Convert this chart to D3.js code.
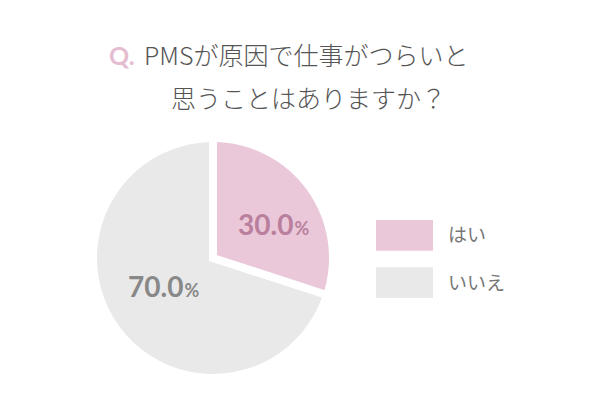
<!DOCTYPE html>
<html><head><meta charset="utf-8">
<script src="https://cdn.jsdelivr.net/npm/d3@7"></script>
<style>html,body{margin:0;padding:0;background:#fff;}</style>
</head><body><div id="chart"></div>
<script>
const categories = ["はい", "いいえ"];
const values = [30.0, 70.0];
const colors = ["#eac8d9", "#e9e9e9"];
const labelColors = ["#b97f9c", "#888888"];
const titleLines = ["PMSが原因で仕事がつらいと", "思うことはありますか？"];
const titlePrefix = "Q.";

const W = 600, H = 400;
const svg = d3.select("#chart").append("svg").attr("width", W).attr("height", H);
svg.append("rect").attr("width", W).attr("height", H).attr("fill", "#fff");

const jp = "'Noto Sans CJK JP','Noto Sans',sans-serif";
const num = "Lato,'Noto Sans',sans-serif";

// Title
svg.append("text").attr("x", 109).attr("y", 65)
  .attr("font-family", num).attr("font-weight", 700).attr("font-size", 25)
  .attr("fill", "#e6bdd0").text(titlePrefix);
svg.append("text").attr("x", 144).attr("y", 65)
  .attr("font-family", jp).attr("font-weight", 300).attr("font-size", 25)
  .attr("fill", "#555").text(titleLines[0]);
svg.append("text").attr("x", 171).attr("y", 108)
  .attr("font-family", jp).attr("font-weight", 300).attr("font-size", 25)
  .attr("fill", "#555").text(titleLines[1]);

// Pie
const cx = 213, cy = 258, R = 116;
const pie = d3.pie().sort(null).value(d => d);
const arcs = pie(values);
const arc = d3.arc().innerRadius(0).outerRadius(R);
const g = svg.append("g").attr("transform", `translate(${cx},${cy})`);
g.selectAll("path.slice").data(arcs).join("path").attr("class", "slice")
  .attr("d", arc).attr("fill", (d, i) => colors[i]);

// white separators along slice boundaries
const ends = arcs.map(d => d.startAngle);
const ext = R + 6;
const p = ends.map(a => [ext * Math.sin(a), -ext * Math.cos(a)]);
g.append("path")
  .attr("d", `M${p[0][0]},${p[0][1]}L0,0L${p[1][0]},${p[1][1]}`)
  .attr("fill", "none").attr("stroke", "#fff").attr("stroke-width", 8)
  .attr("stroke-linejoin", "miter").attr("stroke-miterlimit", 10);

// Labels
const labelPos = [[238, 235], [128, 297]];
arcs.forEach((d, i) => {
  const t = svg.append("text").attr("x", labelPos[i][0]).attr("y", labelPos[i][1])
    .attr("font-family", num).attr("font-weight", 700).attr("fill", labelColors[i]);
  t.append("tspan").attr("font-size", 28).text(d.data.toFixed(1));
  t.append("tspan").attr("font-size", 18).attr("dx", 1).text("%");
});

// Legend
const legY = d3.scaleBand().domain(categories).range([220, 298]).paddingInner(0.35);
const leg = svg.append("g");
categories.forEach((c, i) => {
  leg.append("rect").attr("x", 376).attr("y", legY(c)).attr("width", 57)
    .attr("height", legY.bandwidth()).attr("fill", colors[i]);
  leg.append("text").attr("x", 448).attr("y", legY(c) + legY.bandwidth() / 2 + 7)
    .attr("font-family", jp).attr("font-size", 19).attr("fill", "#777").text(c);
});
</script></body></html>
